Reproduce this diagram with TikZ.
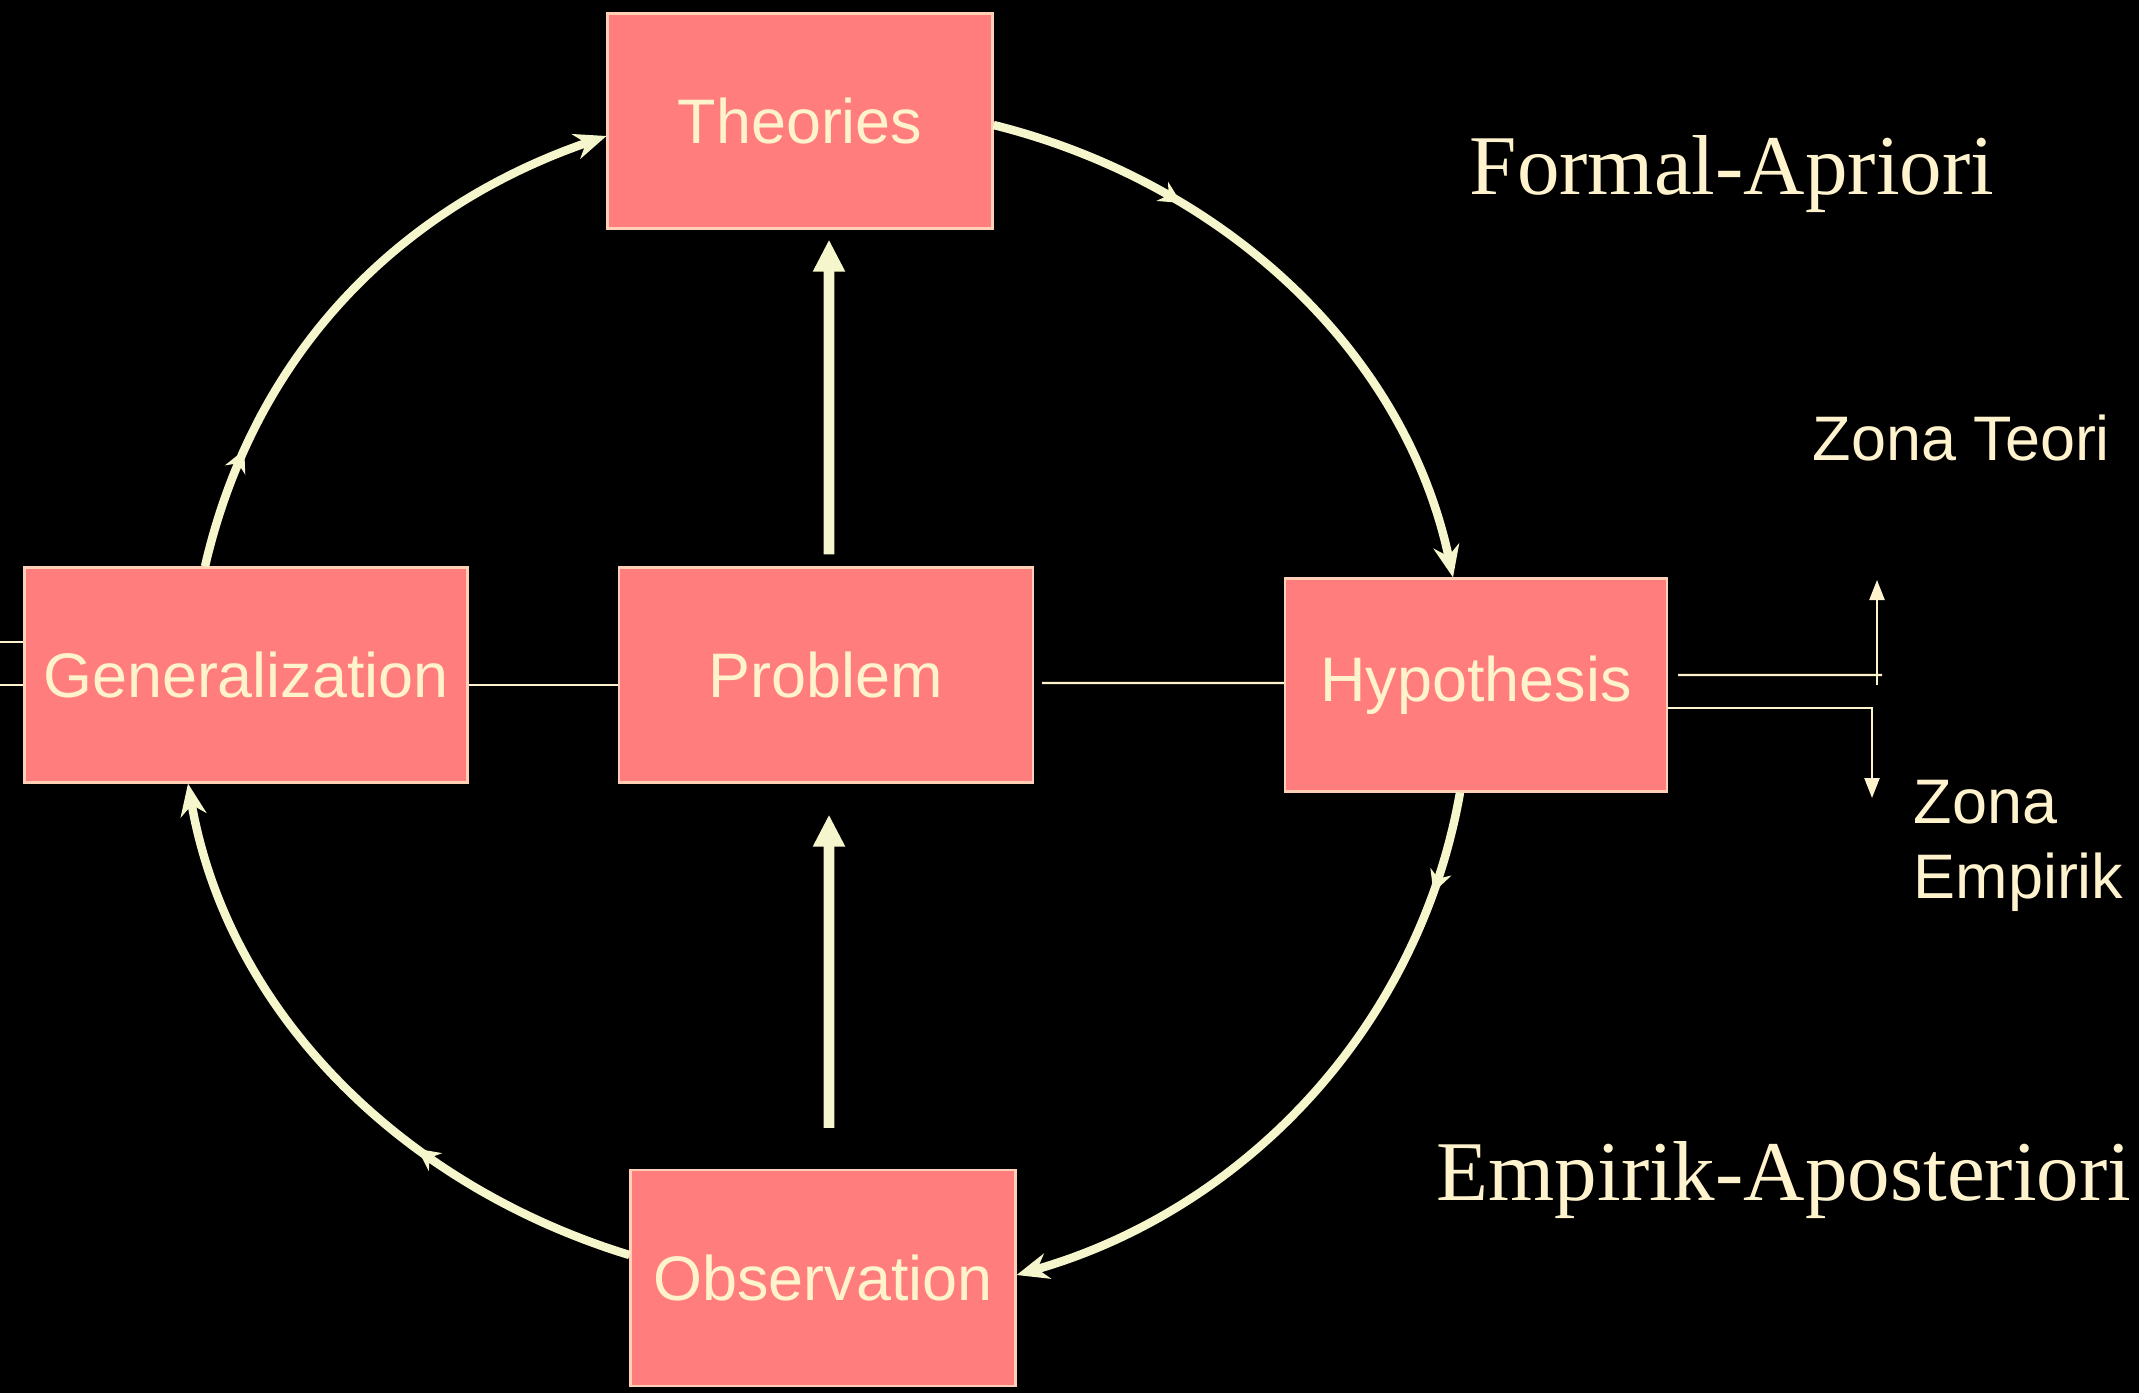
\documentclass[tikz,border=0pt]{standalone}
\usepackage{fontspec}
\setmainfont{Liberation Serif}
\setsansfont{Liberation Sans}
\usetikzlibrary{arrows.meta,decorations.markings}

\definecolor{boxpink}{RGB}{255,125,125}
\definecolor{cream}{RGB}{255,243,205}
\definecolor{loopcol}{RGB}{246,246,204}

\tikzset{
  box/.style={draw=cream!70!boxpink, line width=0.6pt, fill=boxpink, text=cream,
    font=\sffamily\fontsize{17.9}{21}\selectfont, minimum height=2.15cm, inner sep=0pt},
  cyc/.style={draw=loopcol, line width=2.4pt, -{Stealth[length=3.2mm,width=2.6mm]},
    postaction={decorate},
    decoration={markings, mark=at position #1 with {\arrow{Stealth[length=2.2mm,width=2.2mm]}}}},
  bigarrow/.style={draw=loopcol, line width=3.1pt, -{Triangle[length=3.2mm,width=3mm]}},
  thinline/.style={draw=cream, line width=0.7pt},
  thinarrow/.style={thinline, -{Triangle[length=2mm,width=1.5mm]}},
  serifside/.style={text=cream, font=\rmfamily\fontsize{24.2}{29}\selectfont, inner sep=0pt},
  zone/.style={text=cream, font=\sffamily\fontsize{17.9}{21.3}\selectfont, inner sep=0pt}
}

\begin{document}
\begin{tikzpicture}
  \fill[black] (0,0) rectangle (21.39,13.93);
  \useasboundingbox (0,0) rectangle (21.39,13.93);

  % the five boxes
  \node[box, minimum width=3.85cm] (thr) at (8.00,12.72) {Theories};
  \node[box, minimum width=4.14cm] (prob) at (8.26,7.18) {Problem};
  \node[box, minimum width=4.43cm] (gen) at (2.46,7.18) {Generalization};
  \node[box, minimum width=3.82cm, minimum height=2.13cm] (hyp) at (14.76,7.08) {Hypothesis};
  \node[box, minimum width=3.85cm, minimum height=2.16cm] (obs) at (8.23,1.15) {Observation};

  % side texts
  \node[serifside, anchor=base west] (fa) at (14.69,11.98) {Formal-Apriori};
  \node[serifside, anchor=base west] (ea) at (14.36,1.93) {Empirik-Aposteriori};
  \node[zone, anchor=base west] (zt) at (18.12,9.33) {Zona Teori};
  \node[zone, anchor=base west] (zona) at (19.13,5.70) {Zona};
  \node[zone, anchor=base west] (emp) at (19.13,4.95) {Empirik};

  % the cycle
  \draw[cyc=0.2] ([xshift=-4.1mm]gen.north) to[out=77,in=199,looseness=0.95] ([yshift=-1.5mm]thr.west);
  \draw[cyc=0.3] ([yshift=-0.4mm]thr.east) to[out=-14,in=102,looseness=0.93] ([xshift=-2.3mm]hyp.north);
  \draw[cyc=0.15] ([xshift=-1.6mm]hyp.south) to[out=-100,in=16,looseness=0.93] ([yshift=0.3mm]obs.east);
  \draw[cyc=0.35] ([yshift=2.3mm]obs.west) to[out=163,in=-80,looseness=0.93] ([xshift=-5.8mm]gen.south);

  % middle arrows
  \draw[bigarrow] ([xshift=0.3mm,yshift=1.2mm]prob.north) -- ([xshift=2.9mm,yshift=-1mm]thr.south);
  \draw[bigarrow] ([xshift=0.6mm,yshift=4.1mm]obs.north) -- ([xshift=0.3mm,yshift=-3.1mm]prob.south);

  % thin links
  \draw[thinline] ([yshift=-1mm]gen.east) -- ([yshift=-1mm]prob.west);
  \draw[thinline] ([xshift=0.8mm,yshift=-0.8mm]prob.east) -- ([yshift=0.2mm]hyp.west);
  \coordinate (lstuba) at (0,7.51);
  \coordinate (lstubb) at (0,7.08);
  \draw[thinline] (lstuba) -- (lstuba -| gen.west);
  \draw[thinline] (lstubb) -- (lstubb -| gen.west);

  % zone arrows
  \coordinate (tcorner) at (18.82,7.18);
  \coordinate (tfoot) at (18.77,7.08);
  \coordinate (tup) at (18.77,8.13);
  \coordinate (edown) at (18.72,5.95);
  \draw[thinline] ([xshift=1mm,yshift=1mm]hyp.east) -- (tcorner);
  \draw[thinarrow] (tfoot) -- (tup);
  \draw[thinarrow] ([yshift=-2.3mm]hyp.east) -| (edown);
\end{tikzpicture}
\end{document}
